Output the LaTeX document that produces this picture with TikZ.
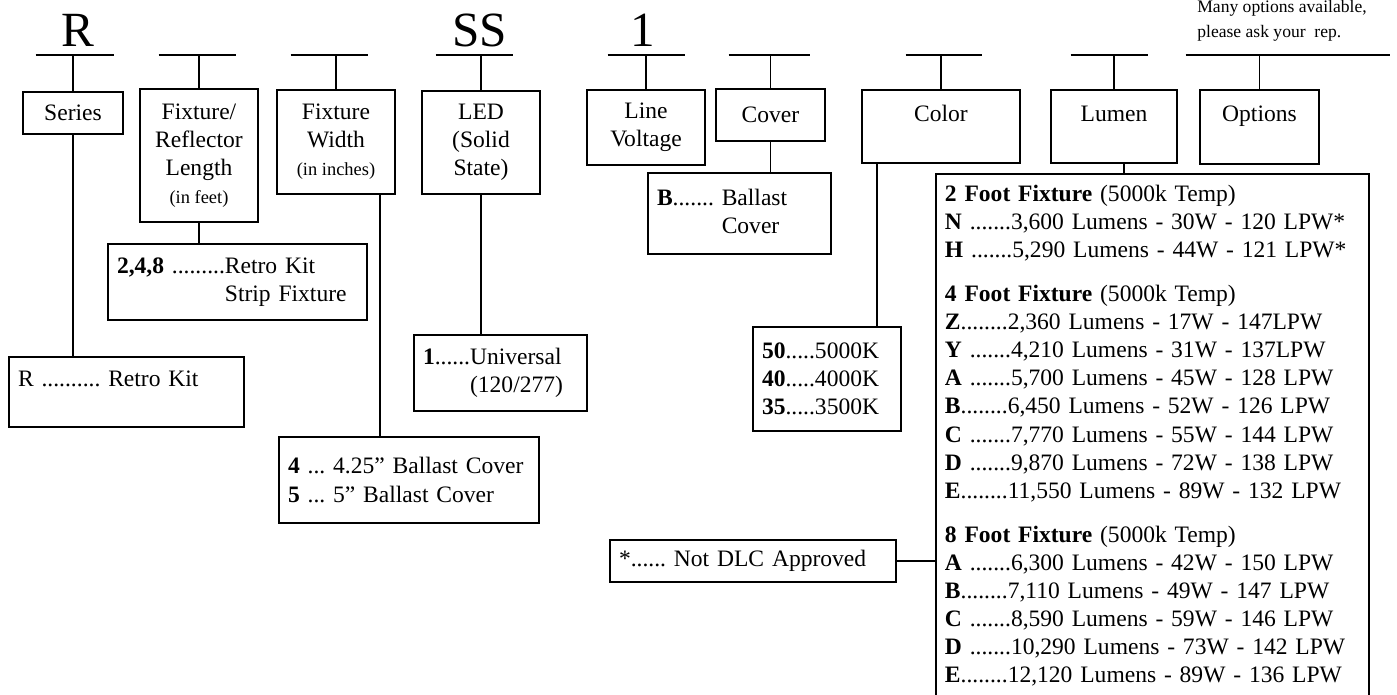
\documentclass[tikz,border=0pt]{standalone}
\usepackage{fontspec}
\setmainfont{Liberation Serif}
\usetikzlibrary{positioning}

\newcommand{\lowpad}{\rule[-15pt]{0pt}{0pt}}

\tikzset{
  box/.style 2 args={draw, line width=1.1pt, minimum width=#1, minimum height=#2, align=center, inner sep=0pt},
  optbox/.style 2 args={draw, line width=1.1pt, text width=#1, minimum height=#2, align=left, inner xsep=0.18cm, inner ysep=0pt},
  slot/.style={minimum width=#1, minimum height=0pt, inner sep=0pt},
  big/.style={font=\fontsize{28}{32}\selectfont, anchor=base},
  small/.style={font=\fontsize{10.5}{13}\selectfont},
  link/.style={line width=0.9pt},
}

\begin{document}
\frenchspacing
\begin{tikzpicture}[x=0.02cm, y=-0.02cm, font=\fontsize{13.4}{16}\selectfont]
  \useasboundingbox (0,0) rectangle (1397,694);
  \clip (0,0) rectangle (1397,694);

  % blanks of the order code
  \node[slot=1.56cm] (s1) at (75,55) {};
  \node[slot=1.54cm] (s2) at (197.5,55) {};
  \node[slot=1.54cm] (s3) at (329.5,55) {};
  \node[slot=1.54cm] (s4) at (474.5,55) {};
  \node[slot=1.54cm] (s5) at (646.5,55) {};
  \node[slot=1.62cm] (s6) at (769.5,55) {};
  \node[slot=1.52cm] (s7) at (944,55) {};
  \node[slot=1.54cm] (s8) at (1109.5,55) {};
  \node[slot=4.08cm] (s9) at (1288,55) {};
  \foreach \i in {1,...,9}
    \draw[link] (s\i.west) -- (s\i.east);

  \node[big] (codeR)  at (78,46)  {R};
  \node[big] (codeSS) at (480,46) {SS};
  \node[big] (code1)  at (643,46) {1};
  \node[font=\fontsize{10}{14.2}\selectfont, align=left, anchor=north west, inner sep=0pt] (note) at (1197,0)
    {Many options available,\\please ask your\ \ rep.};

  % headings
  \node[box={2.00cm}{0.84cm}] (series)  at (73,113)    {Series};
  \node[box={2.36cm}{2.66cm}] (fixlen)  at (199,155.5) {Fixture/\\Reflector\\Length\\{\fontsize{10.5}{13}\selectfont (in feet)}};
  \node[box={2.36cm}{2.08cm}] (fixwid)  at (336,142)   {Fixture\\Width\\{\fontsize{10.5}{13}\selectfont (in inches)}};
  \node[box={2.36cm}{2.06cm}] (led)     at (481,142.5) {LED\\(Solid\\State)};
  \node[box={2.36cm}{1.50cm}] (volt)    at (646,127.5) {Line\\Voltage};
  \node[box={2.18cm}{1.04cm}] (cover)   at (770.5,115) {Cover};
  \node[box={3.16cm}{1.46cm}] (color)   at (941,126.5) {Color\lowpad};
  \node[box={2.52cm}{1.46cm}] (lumen)   at (1114,126.5) {Lumen\lowpad};
  \node[box={2.38cm}{1.48cm}] (options) at (1259.5,127) {Options\lowpad};

  % choices
  \node[optbox={4.34cm}{1.40cm}] (seropt) at (126.5,392) {R .......... Retro Kit\lowpad};
  \node[optbox={4.82cm}{1.52cm}] (lenopt) at (237.5,282)
    {\begin{tabular}{@{}l@{}l@{}}\textbf{2,4,8} .........&Retro Kit\\&Strip Fixture\end{tabular}};
  \node[optbox={4.84cm}{1.72cm}] (widopt) at (409,480)
    {\textbf{4} ... 4.25” Ballast Cover\\\textbf{5} ... 5” Ballast Cover};
  \node[optbox={3.10cm}{1.52cm}] (ledopt) at (500.5,373)
    {\begin{tabular}{@{}l@{}l@{}}\textbf{1}......&Universal\\&(120/277)\end{tabular}};
  \node[optbox={3.30cm}{1.62cm}] (covopt) at (739.5,213.5)
    {\begin{tabular}{@{}l@{}l@{}}\textbf{B}.......&\ Ballast\\&\ Cover\end{tabular}};
  \node[optbox={2.60cm}{2.08cm}] (colopt) at (827,379)
    {\textbf{50}.....5000K\\\textbf{40}.....4000K\\\textbf{35}.....3500K};
  \node[optbox={5.36cm}{0.84cm}] (dlc) at (753,561) {*...... Not DLC Approved};
  \node[optbox={8.30cm}{0cm}, anchor=north west, inner ysep=0.22cm] (lumopt) at (935,173)
    {\textbf{2 Foot Fixture} (5000k Temp)\\
     \textbf{N} .......3,600 Lumens - 30W - 120 LPW*\\
     \textbf{H} .......5,290 Lumens - 44W - 121 LPW*\\[9pt]
     \textbf{4 Foot Fixture} (5000k Temp)\\
     \textbf{Z}........2,360 Lumens - 17W - 147LPW\\
     \textbf{Y} .......4,210 Lumens - 31W - 137LPW\\
     \textbf{A} .......5,700 Lumens - 45W - 128 LPW\\
     \textbf{B}........6,450 Lumens - 52W - 126 LPW\\
     \textbf{C} .......7,770 Lumens - 55W - 144 LPW\\
     \textbf{D} .......9,870 Lumens - 72W - 138 LPW\\
     \textbf{E}........11,550 Lumens - 89W - 132 LPW\\[9pt]
     \textbf{8 Foot Fixture} (5000k Temp)\\
     \textbf{A} .......6,300 Lumens - 42W - 150 LPW\\
     \textbf{B}........7,110 Lumens - 49W - 147 LPW\\
     \textbf{C} .......8,590 Lumens - 59W - 146 LPW\\
     \textbf{D} .......10,290 Lumens - 73W - 142 LPW\\
     \textbf{E}........12,120 Lumens - 89W - 136 LPW\rule[-20pt]{0pt}{0pt}};

  % connectors
  \foreach \b/\i in {series/1, fixlen/2, fixwid/3, led/4, volt/5, cover/6, color/7, lumen/8, options/9}
    \draw[link] (\b.north) -- (\b.north |- s\i);
  \draw[link] (series.south) -- (series.south |- seropt.north);
  \draw[link] (fixlen.south) -- (fixlen.south |- lenopt.north);
  \coordinate (fw) at ([xshift=0.88cm]fixwid.south);
  \draw[link] (fw) -- (fw |- widopt.north);
  \draw[link] (led.south) -- (led.south |- ledopt.north);
  \draw[link] (cover.south) -- (cover.south |- covopt.north);
  \coordinate (cw) at ([xshift=0.32cm]color.south west);
  \draw[link] (cw) -- (cw |- colopt.north);
  \coordinate (lw) at ([xshift=0.2cm]lumen.south);
  \draw[link] (lw) -- (lw |- lumopt.north);
  \draw[link] (dlc.east) -- (dlc.east -| lumopt.west);
\end{tikzpicture}
\end{document}
